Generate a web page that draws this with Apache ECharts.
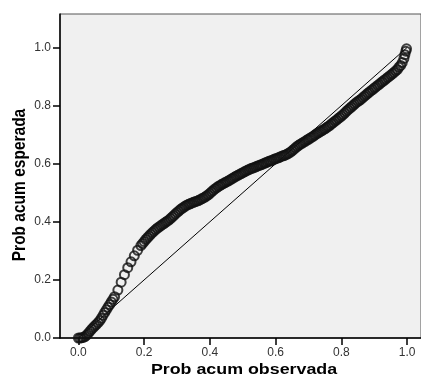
<!DOCTYPE html>
<html>
<head>
<meta charset="utf-8">
<script src="https://cdn.jsdelivr.net/npm/echarts@6/dist/echarts.min.js"></script>
<style>html,body{margin:0;padding:0;background:#fff}#c{width:421px;height:380px}</style>
</head>
<body>
<div id="c"></div>
<script>
var xTitle = "Prob acum observada";
var yTitle = "Prob acum esperada";
var tickValues = [0, 0.2, 0.4, 0.6, 0.8, 1.0];
var obsProb = [
  0.000,0.005,0.010,0.015,0.020,0.025,0.030,0.035,0.040,0.045,0.050,0.055,0.060,0.065,0.070,0.075,0.080,0.085,0.090,0.095,0.100,0.105,0.110,
  0.120,0.130,0.140,0.150,0.160,0.170,0.180,0.190,0.195,
  0.200,0.205,0.210,0.215,0.220,0.225,0.230,0.235,0.240,0.245,0.250,0.255,0.260,0.265,0.270,0.275,0.280,0.285,0.290,0.295,
  0.300,0.305,0.310,0.315,0.320,0.325,0.330,0.335,0.340,0.345,0.350,0.355,0.360,0.365,0.370,0.375,0.380,0.385,0.390,0.395,
  0.400,0.405,0.410,0.415,0.420,0.425,0.430,0.435,0.440,0.445,0.450,0.455,0.460,0.465,0.470,0.475,0.480,0.485,0.490,0.495,
  0.500,0.505,0.510,0.515,0.520,0.525,0.530,0.535,0.540,0.545,0.550,0.555,0.560,0.565,0.570,0.575,0.580,0.585,0.590,0.595,
  0.600,0.605,0.610,0.615,0.620,0.625,0.630,0.635,0.640,0.645,0.650,0.655,0.660,0.665,0.670,0.675,0.680,0.685,0.690,0.695,
  0.700,0.705,0.710,0.715,0.720,0.725,0.730,0.735,0.740,0.745,0.750,0.755,0.760,0.765,0.770,0.775,0.780,0.785,0.790,0.795,
  0.800,0.805,0.810,0.815,0.820,0.825,0.830,0.835,0.840,0.845,0.850,0.855,0.860,0.865,0.870,0.875,0.880,0.885,0.890,0.895,
  0.900,0.905,0.910,0.915,0.920,0.925,0.930,0.935,0.940,0.945,0.950,0.955,0.960,0.965,0.970,
  0.975,0.980,0.985,0.990,0.993,0.996,0.998];
var expProb = [
  0.000,0.000,0.001,0.002,0.005,0.010,0.016,0.023,0.030,0.036,0.042,0.047,0.053,0.060,0.068,0.078,0.088,0.097,0.106,0.115,0.124,0.133,0.142,
  0.165,0.192,0.218,0.242,0.262,0.283,0.302,0.318,0.325,
  0.332,0.339,0.345,0.351,0.357,0.363,0.368,0.373,0.378,0.382,0.386,0.390,0.394,0.398,0.402,0.406,0.411,0.416,0.421,0.427,
  0.432,0.437,0.442,0.446,0.450,0.454,0.457,0.460,0.462,0.465,0.467,0.469,0.471,0.473,0.476,0.479,0.482,0.485,0.489,0.493,
  0.498,0.503,0.508,0.513,0.517,0.521,0.524,0.528,0.531,0.534,0.537,0.540,0.543,0.547,0.550,0.554,0.557,0.560,0.563,0.566,
  0.569,0.572,0.575,0.578,0.580,0.583,0.585,0.587,0.589,0.592,0.594,0.596,0.598,0.601,0.603,0.606,0.608,0.610,0.612,0.615,
  0.617,0.619,0.621,0.624,0.626,0.628,0.630,0.633,0.636,0.640,0.644,0.649,0.654,0.659,0.663,0.667,0.670,0.674,0.677,0.681,
  0.684,0.688,0.691,0.695,0.699,0.703,0.706,0.710,0.713,0.717,0.720,0.724,0.728,0.732,0.737,0.741,0.746,0.750,0.755,0.759,
  0.764,0.769,0.774,0.780,0.785,0.790,0.795,0.800,0.805,0.810,0.814,0.818,0.822,0.827,0.832,0.837,0.842,0.846,0.851,0.855,
  0.860,0.864,0.869,0.873,0.878,0.882,0.887,0.891,0.896,0.900,0.905,0.909,0.914,0.919,0.924,
  0.932,0.938,0.948,0.962,0.975,0.987,0.995];
var refLineX = [0, 1];
var refLineY = [0, 1];

var pts = obsProb.map(function (x, i) { return [x, expProb[i]]; });
var ref = refLineX.map(function (x, i) { return [x, refLineY[i]]; });

var chart = echarts.init(document.getElementById('c'), null, {renderer: 'canvas'});
var font = 'Arial, "Liberation Sans", sans-serif';
function axisCommon(min, max) {
  return {
    type: 'value', min: min, max: max,
    splitLine: {show: false},
    axisLine: {show: true, onZero: false, lineStyle: {color: '#000', width: 1.5}},
    axisTick: {show: true, inside: false, length: 7, customValues: tickValues, lineStyle: {color: '#000', width: 1.5}},
    axisLabel: {customValues: tickValues, color: '#333', fontSize: 12, fontFamily: font, margin: 9,
      formatter: function (v) { return v.toFixed(1); }}
  };
}
chart.setOption({
  animation: false,
  backgroundColor: '#fff',
  grid: {left: 60, right: -2, top: 14, bottom: 42, show: true, backgroundColor: '#f0f0f0', borderColor: '#555', borderWidth: 1},
  xAxis: axisCommon(-0.056, 1.042),
  yAxis: axisCommon(0, 1.115),
  graphic: [
    {type: 'text', x: 244, y: 370, scaleX: 1.15, style: {text: xTitle, font: 'bold 15.5px ' + font, fill: '#000', textAlign: 'center', textVerticalAlign: 'middle'}},
    {type: 'text', rotation: Math.PI / 2, x: 20, y: 185, scaleY: 1.15, style: {text: yTitle, font: 'bold 15.5px ' + font, fill: '#000', textAlign: 'center', textVerticalAlign: 'middle'}}
  ],
  series: [
    {type: 'line', data: ref, showSymbol: false, symbol: 'none', lineStyle: {color: '#000', width: 1}, z: 2, silent: true},
    {type: 'scatter', data: pts, symbol: 'circle', symbolSize: 9, clip: false, z: 3,
      itemStyle: {color: 'rgba(240,240,240,0)', borderColor: '#111', borderWidth: 2}}
  ]
});
</script>
</body>
</html>
